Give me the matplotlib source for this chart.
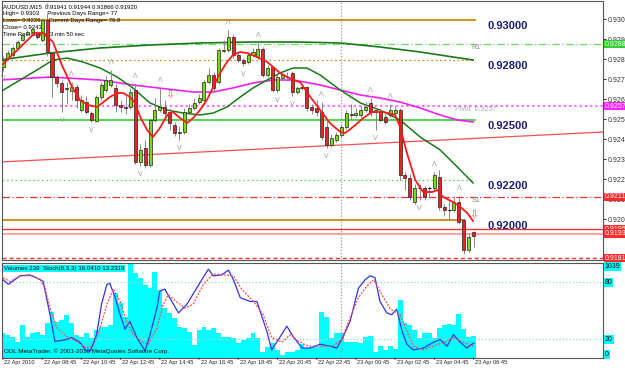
import matplotlib
matplotlib.use('Agg')
import matplotlib.pyplot as plt
from matplotlib.patches import Rectangle
from matplotlib import font_manager

plt.rcParams['font.family'] = ['Liberation Sans', 'DejaVu Sans']
_names = {f.name for f in font_manager.fontManager.ttflist}
NARROW = ['Liberation Sans Narrow', 'Liberation Sans', 'DejaVu Sans'] if 'Liberation Sans Narrow' in _names \
    else ['Liberation Sans', 'DejaVu Sans']
NSCALE = 1.0 if 'Liberation Sans Narrow' in _names else 0.82

# ---------------- data ----------------
opens = [0.92765, 0.92810, 0.92825, 0.92860, 0.92900, 0.92930, 0.92940, 0.92935, 0.92900, 0.93000,
         0.92835, 0.92715, 0.92685, 0.92660, 0.92645, 0.92665, 0.92550, 0.92590, 0.92535, 0.92495,
         0.92615, 0.92650, 0.92675, 0.92660, 0.92575, 0.92565, 0.92565, 0.92650, 0.92290, 0.92360,
         0.92275, 0.92500, 0.92550, 0.92565, 0.92540, 0.92475, 0.92440, 0.92440, 0.92540, 0.92560,
         0.92590, 0.92600, 0.92690, 0.92725, 0.92690, 0.92845, 0.92850, 0.92915, 0.92825, 0.92800,
         0.92790, 0.92825, 0.92815, 0.92855, 0.92725, 0.92765, 0.92650, 0.92710, 0.92715, 0.92735,
         0.92640, 0.92660, 0.92665, 0.92565, 0.92560, 0.92540, 0.92465, 0.92375, 0.92400, 0.92425,
         0.92465, 0.92530, 0.92525, 0.92525, 0.92550, 0.92585, 0.92540, 0.92540, 0.92515, 0.92525,
         0.92535, 0.92550, 0.92225, 0.92210, 0.92090, 0.92160, 0.92160, 0.92160, 0.92160, 0.92215,
         0.92065, 0.92050, 0.92050, 0.92090, 0.92000, 0.91850, 0.91941]
closes = [0.92800, 0.92835, 0.92860, 0.92890, 0.92925, 0.92940, 0.92955, 0.92915, 0.93000, 0.92840,
          0.92715, 0.92685, 0.92640, 0.92655, 0.92665, 0.92600, 0.92600, 0.92540, 0.92500, 0.92615,
          0.92675, 0.92700, 0.92700, 0.92575, 0.92565, 0.92560, 0.92640, 0.92290, 0.92350, 0.92275,
          0.92500, 0.92550, 0.92565, 0.92535, 0.92485, 0.92435, 0.92435, 0.92540, 0.92560, 0.92585,
          0.92610, 0.92690, 0.92725, 0.92660, 0.92850, 0.92850, 0.92915, 0.92825, 0.92800, 0.92785,
          0.92825, 0.92840, 0.92855, 0.92725, 0.92760, 0.92650, 0.92715, 0.92725, 0.92715, 0.92640,
          0.92660, 0.92665, 0.92560, 0.92550, 0.92540, 0.92415, 0.92375, 0.92410, 0.92425, 0.92465,
          0.92535, 0.92525, 0.92535, 0.92550, 0.92565, 0.92540, 0.92550, 0.92500, 0.92490, 0.92550,
          0.92550, 0.92225, 0.92210, 0.92115, 0.92160, 0.92160, 0.92115, 0.92160, 0.92225, 0.92065,
          0.92050, 0.92050, 0.92090, 0.91990, 0.91850, 0.91915, 0.91920]
highs = [0.92820, 0.92850, 0.92870, 0.92900, 0.92935, 0.92950, 0.92965, 0.92945, 0.93010, 0.93030,
         0.92845, 0.92725, 0.92700, 0.92690, 0.92690, 0.92680, 0.92625, 0.92620, 0.92545, 0.92625,
         0.92690, 0.92720, 0.92750, 0.92680, 0.92600, 0.92620, 0.92660, 0.92680, 0.92380, 0.92400,
         0.92510, 0.92610, 0.92660, 0.92600, 0.92560, 0.92490, 0.92470, 0.92560, 0.92580, 0.92610,
         0.92630, 0.92700, 0.92760, 0.92740, 0.92860, 0.92900, 0.92950, 0.92930, 0.92840, 0.92810,
         0.92840, 0.92860, 0.92885, 0.92865, 0.92775, 0.92770, 0.92730, 0.92740, 0.92740, 0.92745,
         0.92670, 0.92680, 0.92670, 0.92580, 0.92600, 0.92590, 0.92500, 0.92430, 0.92440, 0.92480,
         0.92550, 0.92580, 0.92560, 0.92570, 0.92590, 0.92610, 0.92560, 0.92560, 0.92530, 0.92580,
         0.92570, 0.92560, 0.92240, 0.92230, 0.92180, 0.92180, 0.92170, 0.92170, 0.92240, 0.92250,
         0.92080, 0.92100, 0.92120, 0.92120, 0.92010, 0.91930, 0.91944]
lows = [0.92745, 0.92800, 0.92815, 0.92850, 0.92895, 0.92920, 0.92935, 0.92905, 0.92890, 0.92820,
        0.92615, 0.92665, 0.92540, 0.92580, 0.92600, 0.92560, 0.92540, 0.92530, 0.92490, 0.92490,
        0.92600, 0.92640, 0.92665, 0.92540, 0.92540, 0.92530, 0.92555, 0.92280, 0.92270, 0.92260,
        0.92265, 0.92490, 0.92540, 0.92520, 0.92450, 0.92420, 0.92400, 0.92430, 0.92530, 0.92550,
        0.92580, 0.92590, 0.92680, 0.92640, 0.92680, 0.92840, 0.92840, 0.92810, 0.92790, 0.92770,
        0.92780, 0.92815, 0.92805, 0.92715, 0.92715, 0.92640, 0.92640, 0.92700, 0.92695, 0.92620,
        0.92630, 0.92650, 0.92545, 0.92530, 0.92520, 0.92400, 0.92360, 0.92365, 0.92390, 0.92415,
        0.92455, 0.92500, 0.92515, 0.92515, 0.92540, 0.92520, 0.92450, 0.92490, 0.92480, 0.92515,
        0.92530, 0.92200, 0.92150, 0.92100, 0.92080, 0.92100, 0.92100, 0.92120, 0.92150, 0.92050,
        0.92020, 0.92000, 0.92040, 0.91980, 0.91830, 0.91840, 0.91866]

volumes = [273, 254, 236, 181, 365, 236, 273, 284, 254, 383,
           512, 402, 420, 475, 383, 254, 236, 273, 217, 309,
           346, 346, 365, 715, 604, 457, 1039, 936, 880, 807,
           770, 954, 752, 549, 494, 438, 346, 328, 291, 144,
           309, 346, 309, 328, 273, 236, 236, 217, 162, 199,
           217, 273, 217, 70, 125, 162, 88, 33, 70, 70,
           88, 151, 107, 125, 125, 512, 457, 217, 273, 273,
           181, 181, 173, 162, 236, 247, 70, 136, 88, 136,
           99, 641, 383, 365, 309, 217, 273, 273, 217, 328,
           365, 372, 365, 483, 321, 236, 239]

# moving averages (bar position, price)
ma_fast_x = [-0.2, 6.5, 8.2, 10.2, 12.0, 14.1, 15.7, 17.3, 19.2, 21.8, 23.3, 24.5, 25.9, 26.9, 28.0,
             29.4, 30.6, 32.0, 33.5, 34.7, 36.1, 37.6, 38.8, 40.2, 41.6, 42.9, 44.3, 45.7, 46.9, 48.4,
             49.8, 51.8, 53.9, 55.1, 56.5, 58.0, 59.2, 60.6, 62.7, 64.7, 66.7, 68.8, 69.8, 71.4, 73.5,
             75.3, 77.6, 80.0, 81.0, 82.4, 84.1, 85.7, 87.6, 88.6, 89.8, 91.8, 93.3, 94.7, 95.9]
ma_fast_y = [0.92775, 0.92935, 0.92935, 0.92890, 0.92775, 0.92665, 0.92600, 0.92575, 0.92565, 0.92615,
             0.92635, 0.92635, 0.92615, 0.92585, 0.92515, 0.92450, 0.92415, 0.92460, 0.92525, 0.92540,
             0.92510, 0.92485, 0.92510, 0.92550, 0.92600, 0.92665, 0.92735, 0.92790, 0.92825, 0.92840,
             0.92835, 0.92815, 0.92790, 0.92765, 0.92735, 0.92715, 0.92700, 0.92690, 0.92615, 0.92550,
             0.92485, 0.92440, 0.92435, 0.92465, 0.92510, 0.92540, 0.92540, 0.92525, 0.92465, 0.92335,
             0.92200, 0.92140, 0.92140, 0.92150, 0.92115, 0.92090, 0.92065, 0.92035, 0.91995]
ma_mid_x = [-0.6, 3.5, 7.6, 10.2, 13.1, 16.3, 19.8, 23.3, 26.5, 30.0, 33.5, 36.7, 40.2, 42.9, 45.7,
            48.4, 51.0, 53.9, 56.5, 59.2, 62.0, 64.7, 68.8, 72.9, 76.9, 81.0, 85.1, 89.2, 92.7, 95.9]
ma_mid_y = [0.92640, 0.92700, 0.92760, 0.92800, 0.92810, 0.92790, 0.92760, 0.92715, 0.92660, 0.92585,
            0.92550, 0.92535, 0.92525, 0.92535, 0.92565, 0.92615, 0.92660, 0.92700, 0.92735, 0.92760,
            0.92760, 0.92725, 0.92650, 0.92585, 0.92550, 0.92500, 0.92415, 0.92350, 0.92265, 0.92185]
ma_slow_x = [-0.6, 9.6, 19.8, 30.0, 40.2, 50.4, 60.6, 68.8, 76.9, 85.1, 91.8, 95.9]
ma_slow_y = [0.92800, 0.92835, 0.92860, 0.92875, 0.92885, 0.92890, 0.92890, 0.92885, 0.92865, 0.92840,
             0.92815, 0.92800]
ma_mag_x = [-0.6, 9.6, 19.8, 26.5, 33.5, 38.8, 42.9, 46.9, 51.0, 55.1, 59.2, 64.7, 68.8, 72.9, 76.9,
            81.0, 85.1, 89.2, 92.7, 95.9]
ma_mag_y = [0.92700, 0.92715, 0.92700, 0.92675, 0.92655, 0.92640, 0.92640, 0.92660, 0.92685, 0.92700,
            0.92700, 0.92675, 0.92650, 0.92625, 0.92610, 0.92590, 0.92560, 0.92525, 0.92500, 0.92490]

trend_x = [-0.6, 122.5]
trend_y = [0.92290, 0.92440]

fractal_up = [9, 14, 22, 27, 32, 46, 52, 65, 71, 75, 79, 88, 93]
fractal_dn = [0, 12, 18, 28, 36, 49, 56, 59, 66, 76, 85]
signal_x = [34, 96]
signal_y = [0.92625, 0.92025]

# stochastic (bar position, value)
stoch_main_x = [0, 1.1, 3.5, 5.5, 7.6, 8.2, 9.6, 10.6, 13, 14, 15.7, 17, 17.8, 19.1, 20.1, 21.2, 21.8,
                22.9, 23.9, 24.9, 25.9, 27.3, 29, 30, 31.4, 32, 33, 34, 35.8, 37.5, 39.5, 41.9, 42.9,
                44.6, 46, 47, 48.4, 50.4, 51.8, 53.8, 54.8, 56.2, 57.9, 59.2, 61, 62.7, 64.7, 66.7,
                68.1, 69.4, 70.8, 72.5, 73.9, 74.9, 75.9, 76.9, 78.3, 79.3, 80.3, 81.4, 82.4, 83.7,
                85.8, 87.8, 89.2, 90.6, 91.9, 93.3, 94.6, 96]
stoch_main = [83, 78, 87, 88, 83, 81, 46, 18, 20, 22, 17, 8, 8, 25, 57, 78, 79,
              64, 46, 31, 39, 22, 8, 25, 53, 71, 73, 64, 48, 57, 74, 94, 87,
              88, 93, 83, 64, 60, 60, 29, 9, 20, 34, 23, 11, 11, 15, 13,
              11, 23, 39, 74, 83, 87, 85, 60, 48, 46, 52, 29, 15, 9,
              11, 17, 20, 13, 25, 17, 11, 16]
stoch_sig_x = [0, 1.4, 3.5, 5.8, 7.6, 8.6, 9.6, 11, 13, 15, 17, 18.4, 19.8, 21.2, 22.5, 23.9, 25.2,
               26.6, 28.3, 29.7, 31.4, 32.7, 33.7, 35.4, 37.1, 38.8, 40.9, 42.9, 45, 47, 48.7, 51.1,
               53.1, 54.8, 56.9, 58.6, 60.3, 62.3, 64.7, 67.4, 69.1, 70.8, 72.5, 74.2, 75.6, 76.9,
               79, 81, 82.4, 83.7, 85.8, 87.8, 89.9, 91.9, 93.9, 96]
stoch_sig = [85, 81, 87, 87, 83, 74, 53, 32, 23, 18, 11, 13, 32, 57, 73, 60, 39,
             25, 18, 15, 32, 57, 67, 60, 53, 57, 78, 89, 88, 87, 73, 60,
             46, 22, 17, 25, 18, 13, 13, 13, 20, 43, 64, 76, 83, 71,
             52, 46, 29, 13, 9, 13, 17, 22, 17, 13]

time_labels = ["22 Apr 2010", "22 Apr 08:45", "22 Apr 10:45", "22 Apr 12:45", "22 Apr 14:45",
               "22 Apr 16:45", "22 Apr 18:45", "22 Apr 20:45", "22 Apr 22:45", "23 Apr 00:45",
               "23 Apr 02:45", "23 Apr 04:45", "23 Apr 06:45"]
time_label_bars = [0, 8, 16, 24, 32, 40, 48, 56, 64, 72, 80, 88, 96]
day_separator_bar = 69

price_ticks = [0.93005, 0.92905, 0.92805, 0.92705, 0.92605, 0.92505, 0.92405, 0.92305, 0.92205,
               0.92105, 0.92005]
round_levels = [0.93000, 0.92800, 0.92500, 0.92200, 0.92000]
round_labels = ["0.93000", "0.92800", "0.92500", "0.92200", "0.92000"]
pivot = 0.92570
r1 = 0.92880
s1 = 0.92115
line_a = 0.91955
bid_line = 0.91932
low_line = 0.91810

header_lines = ["AUDUSD,M15  0.91941 0.91944 0.91866 0.91920",
                "High= 0.9303     Previous Days Range= 77",
                "Lows= 0.9226     Current Days Range= 76.8",
                "Close= 0.9243",
                "Time Remaining: 3 min 50 sec"]

# ---------------- figure ----------------
W, H = 625, 370
fig = plt.figure(figsize=(W / 100, H / 100), dpi=100, facecolor='white')
L = 2 / W
Wd = 601 / W
ax = fig.add_axes([L, (H - 260) / H, Wd, 259 / H])
ax2 = fig.add_axes([L, (H - 358) / H, Wd, 95 / H])

n = len(opens)
xmin, xmax = -0.2, 122.4
for a in (ax, ax2):
    a.set_xlim(xmin, xmax)
    a.set_facecolor('white')
    for s in a.spines.values():
        s.set_color('#555555')
        s.set_linewidth(0.8)
    a.set_xticks([])

ax.set_ylim(0.91800, 0.93095)

# horizontal levels
lv_x_end = 96.3
orange = '#cc8a00'
ax.plot([xmin, lv_x_end], [0.93, 0.93], color=orange, lw=1.3, zorder=2)
ax.plot([xmin, lv_x_end], [0.928, 0.928], color='#b8a020', lw=0.9, ls=(0, (1.5, 2)), zorder=2)
ax.plot([xmin, lv_x_end], [0.925, 0.925], color='#22cc22', lw=1.1, zorder=2)
ax.plot([xmin, lv_x_end], [0.922, 0.922], color='#66dd66', lw=0.9, ls=(0, (1.5, 2)), zorder=2)
ax.plot([xmin, 94], [0.92, 0.92], color=orange, lw=1.3, zorder=2)
ax.axhline(r1, color='#66dd66', lw=0.9, ls=(0, (6, 2, 1, 2)), zorder=2)
ax.axhline(pivot, color='#ff66ff', lw=1.4, ls=(0, (1.2, 1.5)), zorder=2)
ax.axhline(s1, color='#ee3333', lw=0.9, ls=(0, (6, 2, 1, 2)), zorder=2)
ax.axhline(line_a, color='#ee3333', lw=1.0, zorder=2)
ax.axhline(bid_line, color='#ff9a9a', lw=1.3, zorder=2)
ax.axhline(low_line, color='#ee3333', lw=1.0, ls=(0, (3, 2)), zorder=2)
ax.plot(trend_x, trend_y, color='#f05050', lw=0.9, zorder=2)
ax.axvline(day_separator_bar, color='#999999', lw=0.9, ls=(0, (1, 1.5)), zorder=1)
ax2.axvline(day_separator_bar, color='#999999', lw=0.9, ls=(0, (1, 1.5)), zorder=1)

# header text
for k, t in enumerate(header_lines):
    ax.text(0.002, 1 - (3 + 7 * k) / 259, t, transform=ax.transAxes, fontsize=5.3 * NSCALE,
            va='top', ha='left', color='black', zorder=3, family=NARROW)

# moving averages
ax.plot(ma_slow_x, ma_slow_y, color='#1a7a1a', lw=1.2, zorder=4)
ax.plot(ma_mag_x, ma_mag_y, color='#ee22ee', lw=1.2, zorder=4)
ax.plot(ma_mid_x, ma_mid_y, color='#1a7a1a', lw=1.1, zorder=4)

# candles
bw = 0.62
for i in range(n):
    o, c, h, l = opens[i], closes[i], highs[i], lows[i]
    ax.vlines(i, l, h, color='#888888', lw=0.7, zorder=5)
    bot, top = min(o, c), max(o, c)
    if top - bot < 0.00003:
        ax.hlines(o, i - bw / 2, i + bw / 2, color='black', lw=0.8, zorder=6)
    else:
        col = '#77dd11' if c > o else '#ee2222'
        ax.add_patch(Rectangle((i - bw / 2, bot), bw, top - bot, facecolor=col,
                               edgecolor='#222222', lw=0.5, zorder=6))

ax.plot(ma_fast_x, ma_fast_y, color='#ff1a1a', lw=1.3, zorder=7)

# fractals & signals
for i in fractal_up:
    ax.text(i, highs[i] + 0.0004, 'Λ', fontsize=5, color='#999999', ha='center', va='center', zorder=8)
for i in fractal_dn:
    ax.text(i, lows[i] - 0.0004, 'V', fontsize=5, color='#999999', ha='center', va='center', zorder=8)
for xs, ys in zip(signal_x, signal_y):
    ax.text(xs, ys, '⇩', fontsize=8, color='#ff5555', ha='center', va='center',
            family=['DejaVu Sans'], zorder=8)

# round-number labels
for lv, lab in zip(round_levels, round_labels):
    ax.text(98.8, lv - 0.00028, lab, fontsize=8, fontweight='bold', color='#1c1c78',
            ha='left', va='center', zorder=8)
ax.text(95.6, r1 - 0.00016, 'R1', fontsize=5, color='#888888', ha='left', va='center')
ax.text(95.6, s1 - 0.0002, 'S1', fontsize=5, color='#888888', ha='left', va='center')
ax.text(92.2, pivot - 0.00015, 'Pivot  0.9257', fontsize=5, color='#aaaaaa', ha='left', va='center')

# right price axis
ax.yaxis.tick_right()
ax.set_yticks(price_ticks)
ax.set_yticklabels([f"{p:.5f}" for p in price_ticks])
ax.tick_params(axis='y', labelsize=5, length=2, pad=1.5, colors='#333333')
for lv, col in [(r1, '#33cc33'), (pivot, '#ff22ff'), (s1, '#ff2a2a'), (line_a, '#ff2a2a'),
                (bid_line, '#ff2a2a'), (low_line, '#ff2a2a')]:
    ax.text(1.003, lv, f"{lv:.5f}", transform=ax.get_yaxis_transform(), fontsize=5,
            color='white', ha='left', va='center', zorder=10, clip_on=False,
            bbox=dict(boxstyle='square,pad=0.12', fc=col, ec='none'))

# ---------------- lower panel ----------------
ax2.set_ylim(0.5, 100.5)
axv = ax2.twinx()
axv.set_xlim(xmin, xmax)
axv.set_ylim(0, 1050)
axv.bar(range(n), volumes, width=1.0, color='#00ffff', zorder=1)
axv.set_yticks([])
axv.set_zorder(1)
ax2.set_zorder(2)
ax2.patch.set_visible(False)
for s in axv.spines.values():
    s.set_visible(False)

ax2.axhline(80, color='#99dddd', lw=0.9, ls=(0, (1.2, 1.5)))
ax2.axhline(20, color='#99dddd', lw=0.9, ls=(0, (1.2, 1.5)))
ax2.plot(stoch_main_x, stoch_main, color='#3333ee', lw=0.9, zorder=4)
ax2.plot(stoch_sig_x, stoch_sig, color='#ff4444', lw=0.9, ls=(0, (1.5, 1.2)), zorder=4)
ax2.set_yticks([])
ax2.text(0.003, 0.965, 'Volumes 239  Stoch(8,3,3) 16.0410 13.2319', transform=ax2.transAxes,
         fontsize=5.4 * NSCALE, va='top', ha='left', color='black', family=NARROW,
         bbox=dict(boxstyle='square,pad=0.15', fc='#00ffff', ec='none'), zorder=6)
ax2.text(0.003, 0.04, 'ODL MetaTrader. © 2001-2010 MetaQuotes Software Corp.', transform=ax2.transAxes,
         fontsize=5.5 * NSCALE, va='bottom', ha='left', color='black', zorder=6, family=NARROW)
for val, lab in [(97, '1039'), (80, '80'), (20, '20'), (4, '0')]:
    ax2.text(1.003, val, lab, transform=ax2.get_yaxis_transform(), fontsize=5, color='black',
             ha='left', va='center', clip_on=False,
             bbox=dict(boxstyle='square,pad=0.12', fc='#00ffff', ec='none'))

# time axis
for b, lab in zip(time_label_bars, time_labels):
    ax2.annotate('', xy=(b, 0), xytext=(b, -3), xycoords=('data', 'axes fraction'),
                 textcoords=('data', 'axes points'),
                 arrowprops=dict(arrowstyle='-', color='#333333', lw=0.7))
    ax2.text(b + 0.3, -0.025, lab, transform=ax2.get_xaxis_transform(), fontsize=4.9 * NSCALE,
             ha='left', va='top', color='#222222', clip_on=False, family=NARROW)

fig.savefig('out.png', dpi=100, facecolor='white')
